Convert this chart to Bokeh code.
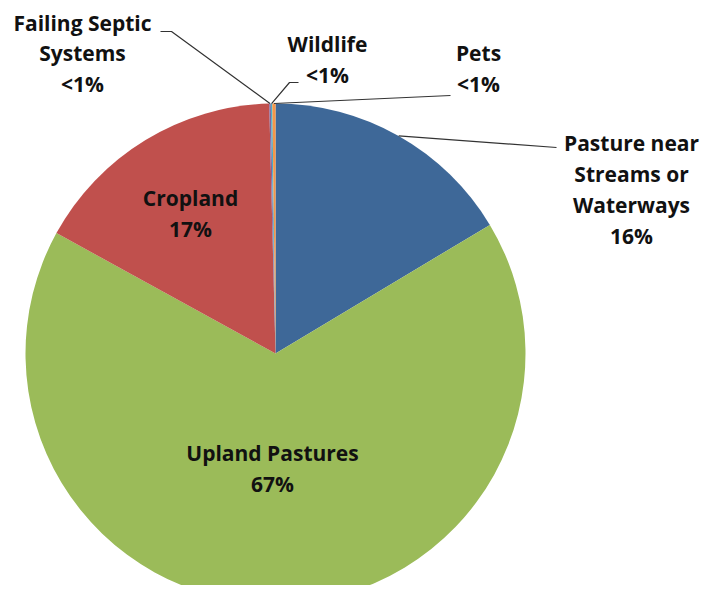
import math
from bokeh.plotting import figure
from bokeh.models import ColumnDataSource
from bokeh.core.properties import value
from bokeh.embed import file_html
from bokeh.resources import INLINE

# ---- data ----
categories = ["Pasture near\nStreams or\nWaterways", "Upland Pastures", "Cropland",
              "Failing Septic\nSystems", "Wildlife", "Pets"]
shares = [16.4, 66.6, 16.6, 0.1, 0.1, 0.2]
pct_labels = ["16%", "67%", "17%", "<1%", "<1%", "<1%"]
colors = ["#3E6898", "#9BBB59", "#C0504D", "#8064A2", "#4BACC6", "#F79646"]

# ---- layout (screen-like coordinates: x right, y = -screen_y) ----
CX, CY, R = 275, -353, 250
label_pos = [(631, -189), (272, -468), (190, -213), (82, -53), (327, -59), (478, -68)]
leader_ends = [
    [(556, -147)],
    None,
    None,
    [(171, -31), (160, -31)],
    [(289, -82), (298, -82)],
    [(450, -95)],
]

W, H = 707, 585
p = figure(width=W, height=H, x_range=(0, W), y_range=(-H, 0),
           min_border=0, toolbar_location=None, output_backend="svg")
p.axis.visible = False
p.grid.visible = False
p.outline_line_color = None
p.background_fill_color = "white"

total = sum(shares)
cum = 0.0
starts, ends, mids = [], [], []
for s in shares:
    a0 = cum / total
    cum += s
    a1 = cum / total
    starts.append(math.pi / 2 - 2 * math.pi * a0)
    ends.append(math.pi / 2 - 2 * math.pi * a1)
    mids.append((a0 + a1) / 2 * 2 * math.pi)

src = ColumnDataSource(dict(start=starts, end=ends, color=colors))
p.wedge(x=CX, y=CY, radius=R, start_angle="start", end_angle="end",
        direction="clock", fill_color="color", line_color=None, source=src)

for i, pts in enumerate(leader_ends):
    if pts is None:
        continue
    th = mids[i]
    sx = CX + R * math.sin(th)
    sy = CY + R * math.cos(th)
    xs = [sx] + [q[0] for q in pts]
    ys = [sy] + [q[1] for q in pts]
    p.line(xs, ys, line_color="#333333", line_width=1.2)

texts = [f"{c}\n{v}" for c, v in zip(categories, pct_labels)]
tsrc = ColumnDataSource(dict(x=[q[0] for q in label_pos], y=[q[1] for q in label_pos], t=texts))
p.text(x="x", y="y", text="t", source=tsrc, text_align="center", text_baseline="middle",
       text_font=value("Open Sans"), text_font_style="bold", text_font_size="21px",
       text_line_height=1.1, text_color="#111111")

open("out.html", "w").write(file_html(p, INLINE))
